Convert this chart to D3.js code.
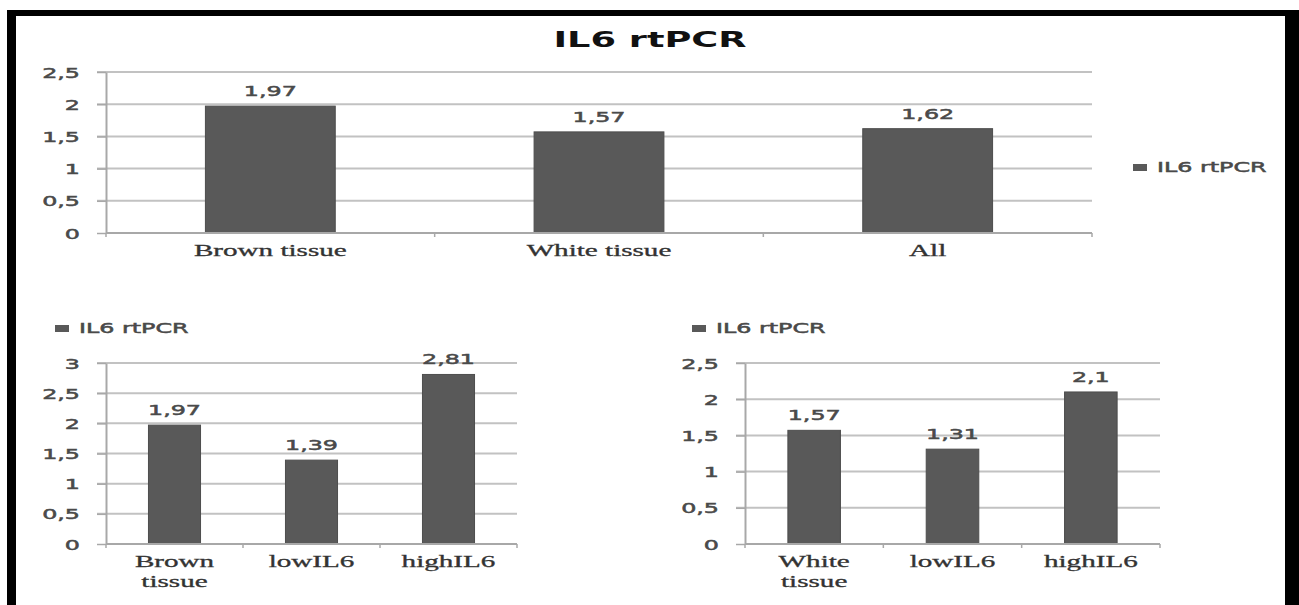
<!DOCTYPE html>
<html>
<head>
<meta charset="utf-8">
<script src="https://cdn.jsdelivr.net/npm/d3@7"></script>
<style>
  html, body { margin: 0; padding: 0; background: #fff; }
  svg { display: block; }
</style>
</head>
<body>
<svg id="chart" width="1299" height="605"></svg>
<script>
// ---- data ----
const chartTitle = "IL6 rtPCR";
const seriesName = "IL6 rtPCR";

const topCategories = ["Brown tissue", "White tissue", "All"];
const topValues = [1.97, 1.57, 1.62];
const topTicks = [0, 0.5, 1, 1.5, 2, 2.5];

const leftCategories = ["Brown tissue", "lowIL6", "highIL6"];
const leftValues = [1.97, 1.39, 2.81];
const leftTicks = [0, 0.5, 1, 1.5, 2, 2.5, 3];

const rightCategories = ["White tissue", "lowIL6", "highIL6"];
const rightValues = [1.57, 1.31, 2.1];
const rightTicks = [0, 0.5, 1, 1.5, 2, 2.5];

// ---- style ----
const SX = 1.7;               // horizontal stretch of the original picture
const SX_SERIF = 1.82;
const BAR = "#595959";
const GRID = "#c2c2c2";
const AXIS = "#a8a8a8";
const TXT = "#4a4a4a";
const SANS = "'DejaVu Sans', Verdana, sans-serif";
const SERIF = "'Liberation Serif', 'Times New Roman', serif";

const loc = d3.formatLocale({decimal: ",", thousands: ".", grouping: [3], currency: ["", ""]});
const fmt = v => loc.format("~g")(v);

const svg = d3.select("#chart");
svg.append("rect").attr("width", 1299).attr("height", 605).attr("fill", "#fff");

// frame
svg.append("rect").attr("x", 7).attr("y", 10).attr("width", 9).attr("height", 600).attr("fill", "#000");
svg.append("rect").attr("x", 7).attr("y", 10).attr("width", 1292).attr("height", 6).attr("fill", "#000");
svg.append("rect").attr("x", 1285).attr("y", 10).attr("width", 14).attr("height", 600).attr("fill", "#000");

function stretched(g, x, y, txt, sx) {
  return g.append("text")
    .attr("transform", `translate(${x},${y}) scale(${sx || SX},1)`)
    .text(txt);
}

// title
stretched(svg, 650, 47, chartTitle, 1.75)
  .attr("text-anchor", "middle")
  .attr("font-family", SANS).attr("font-weight", "bold")
  .attr("font-size", 21).attr("fill", "#111");

function drawChart(opt) {
  const g = svg.append("g");
  const x = d3.scaleBand().domain(opt.categories)
    .range([opt.x0, opt.x1]).paddingInner(opt.pad).paddingOuter(opt.pad / 2);
  const y = d3.scaleLinear().domain([0, d3.max(opt.ticks)]).range([opt.y0, opt.y1]);

  // gridlines
  g.selectAll(".grid").data(opt.ticks.slice(1)).join("line")
    .attr("x1", opt.x0 - 9).attr("x2", opt.x1)
    .attr("y1", d => y(d)).attr("y2", d => y(d))
    .attr("stroke", GRID).attr("stroke-width", 2);

  // y axis
  const ya = g.append("g").attr("transform", `translate(${opt.x0},0)`)
    .call(d3.axisLeft(y).tickValues(opt.ticks).tickFormat(fmt).tickSize(9).tickSizeOuter(0));
  ya.select(".domain").attr("stroke", AXIS).attr("stroke-width", 2);
  ya.selectAll(".tick line").attr("stroke", AXIS).attr("stroke-width", 1.5);
  ya.selectAll(".tick text")
    .attr("x", null).attr("dy", "0.36em")
    .attr("transform", `translate(-26,0) scale(${SX},1)`)
    .attr("font-family", SANS).attr("font-size", 14).attr("fill", TXT)
    .attr("stroke", TXT).attr("stroke-width", 0.5)
    .attr("text-anchor", "end");

  // bars
  g.selectAll(".bar").data(opt.values).join("rect")
    .attr("x", (d, i) => x(opt.categories[i]))
    .attr("width", x.bandwidth())
    .attr("y", d => y(d))
    .attr("height", d => y(0) - y(d))
    .attr("fill", BAR).attr("stroke", "#4d4d4d").attr("stroke-width", 1);

  // x axis line + boundary ticks
  g.append("line").attr("x1", opt.x0).attr("x2", opt.x1)
    .attr("y1", y(0)).attr("y2", y(0))
    .attr("stroke", AXIS).attr("stroke-width", 2);
  const bounds = d3.range(opt.categories.length + 1).map(i => opt.x0 + i * x.step());
  g.selectAll(".xt").data(bounds).join("line")
    .attr("x1", d => d).attr("x2", d => d)
    .attr("y1", y(0)).attr("y2", y(0) + 4)
    .attr("stroke", AXIS).attr("stroke-width", 1.5);

  // value labels
  opt.values.forEach((v, i) => {
    stretched(g, x(opt.categories[i]) + x.bandwidth() / 2, y(v) - 10, fmt(v))
      .attr("text-anchor", "middle")
      .attr("font-family", SANS).attr("font-size", 14).attr("fill", TXT)
      .attr("stroke", TXT).attr("stroke-width", 0.5);
  });

  // category labels
  opt.categories.forEach((c, i) => {
    const cx = x(c) + x.bandwidth() / 2;
    const lines = opt.wrap ? c.split(" ") : [c];
    lines.forEach((ln, j) => {
      stretched(g, cx, y(0) + opt.labelOffset + j * 20, ln, SX_SERIF)
        .attr("text-anchor", "middle")
        .attr("font-family", SERIF).attr("font-size", 16).attr("fill", "#333")
        .attr("stroke", "#333").attr("stroke-width", 0.3);
    });
  });

  // legend
  g.append("rect").attr("x", opt.lx).attr("y", opt.ly - 8)
    .attr("width", 14).attr("height", 7).attr("fill", BAR);
  stretched(g, opt.lx + 24, opt.ly, seriesName)
    .attr("font-family", SANS).attr("font-size", 14).attr("fill", TXT)
    .attr("stroke", TXT).attr("stroke-width", 0.5);
}

drawChart({categories: topCategories, values: topValues, ticks: topTicks,
  x0: 106, x1: 1092, y0: 233, y1: 72, pad: 0.605, wrap: false, labelOffset: 23,
  lx: 1133, ly: 172});
drawChart({categories: leftCategories, values: leftValues, ticks: leftTicks,
  x0: 106, x1: 517, y0: 544, y1: 363, pad: 0.62, wrap: true, labelOffset: 23,
  lx: 55, ly: 333});
drawChart({categories: rightCategories, values: rightValues, ticks: rightTicks,
  x0: 745, x1: 1160, y0: 544, y1: 363, pad: 0.62, wrap: true, labelOffset: 23,
  lx: 692, ly: 333});
</script>
</body>
</html>
